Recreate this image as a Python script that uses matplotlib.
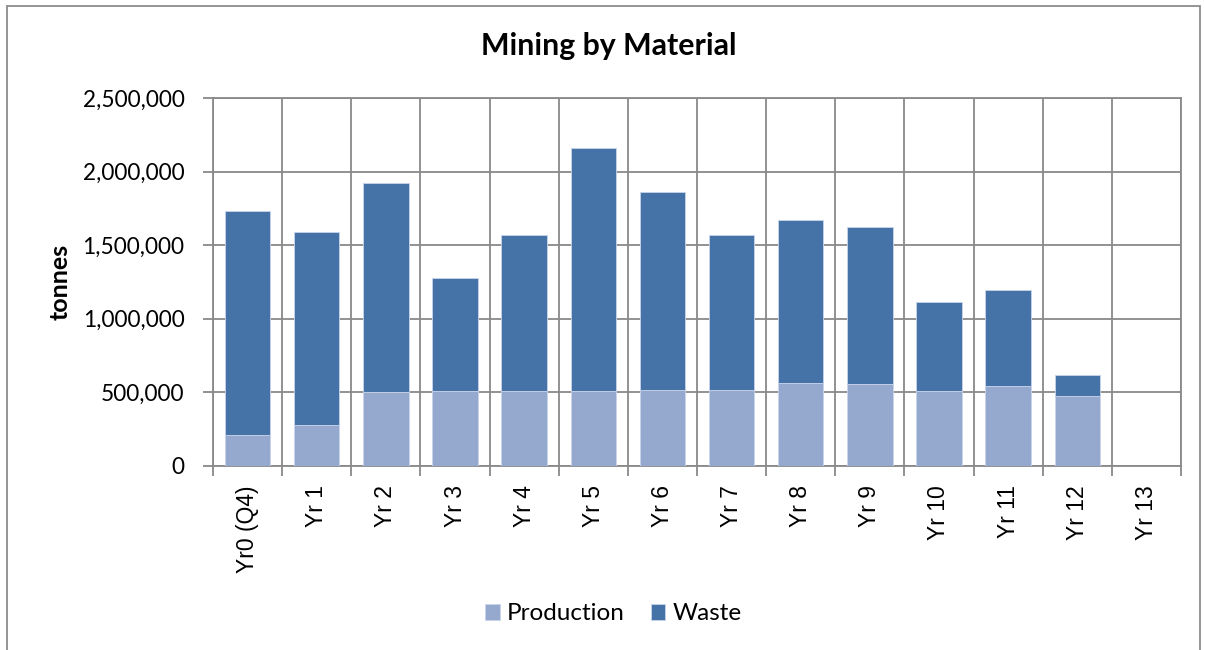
import matplotlib
matplotlib.use("Agg")
import matplotlib.pyplot as plt
from matplotlib.patches import Rectangle
from matplotlib.ticker import FuncFormatter, FixedLocator
import numpy as np

categories = ["Yr0 (Q4)", "Yr 1", "Yr 2", "Yr 3", "Yr 4", "Yr 5", "Yr 6",
              "Yr 7", "Yr 8", "Yr 9", "Yr 10", "Yr 11", "Yr 12", "Yr 13"]
totals = [1730000, 1587000, 1919000, 1276000, 1571000, 2160000, 1858000,
          1569000, 1673000, 1623000, 1112000, 1193000, 620000, 0]
production = [210000, 280000, 500000, 509000, 505000, 509000, 518000,
              518000, 559000, 555000, 511000, 545000, 473000, 0]
waste = [t - p for t, p in zip(totals, production)]

prod_color = "#95A9CF"
waste_color = "#4572A7"
grid_color = "#898989"

W, H = 1205, 650
fig = plt.figure(figsize=(W / 100, H / 100), dpi=100)

# chart area outline
fig.patches.append(Rectangle((7 / W, -0.02), (1200 - 7) / W, (H - 6) / H + 0.02,
                             transform=fig.transFigure, fill=False,
                             edgecolor="#8C8C8C", linewidth=1.3))

ax = fig.add_axes([213 / W, (H - 465.7) / H, (1181 - 213) / W, (465.7 - 98) / H])

x = np.arange(len(categories))
bw = 0.655
ax.bar(x, production, bw, color=prod_color, edgecolor="#C9D4EA", linewidth=0.6,
       label="Production", zorder=3)
ax.bar(x, waste, bw, bottom=production, color=waste_color, edgecolor="#C9D4EA",
       linewidth=0.6, label="Waste", zorder=3)

ax.set_xlim(-0.5, len(categories) - 0.5)
ax.set_ylim(0, 2500000)
ax.yaxis.set_major_locator(FixedLocator(np.arange(0, 2500001, 500000)))
ax.yaxis.set_major_formatter(FuncFormatter(lambda v, _: f"{int(v):,}"))

# category boundaries carry the vertical grid and the ticks
bounds = np.arange(-0.5, len(categories), 1.0)
ax.set_xticks(bounds)
ax.set_xticklabels([])
ax.set_xticks(x, minor=True)
ax.set_xticklabels(categories, minor=True, rotation=90, fontsize=16.5,
                   family="Liberation Sans")
ax.tick_params(axis="x", which="minor", length=0, pad=14)
ax.tick_params(axis="x", which="major", length=7, width=1.3, color=grid_color)
ax.tick_params(axis="y", length=7, width=1.3, color=grid_color, pad=13.5)
for lab in ax.get_yticklabels():
    lab.set_fontsize(16.3)
    lab.set_family("Lato")

ax.grid(True, which="major", axis="both", color=grid_color, linewidth=1.3, zorder=0)
ax.set_axisbelow(True)
for s in ax.spines.values():
    s.set_color(grid_color)
    s.set_linewidth(1.3)

ax.set_ylabel("tonnes", fontsize=18, fontweight="bold", family="Lato", labelpad=8)

fig.text(609 / W, 1 - 46 / H, "Mining by Material", ha="center", va="center",
         fontsize=21.8, fontweight="bold", family="Lato")

leg = fig.legend(loc="center", bbox_to_anchor=(613.5 / W, 1 - 614 / H), ncol=2,
                 frameon=False, prop={"family": "Lato", "size": 17.5},
                 handlelength=0.6, handleheight=0.6, handletextpad=0.3,
                 columnspacing=1.07)

fig.savefig("out.png", dpi=100)
